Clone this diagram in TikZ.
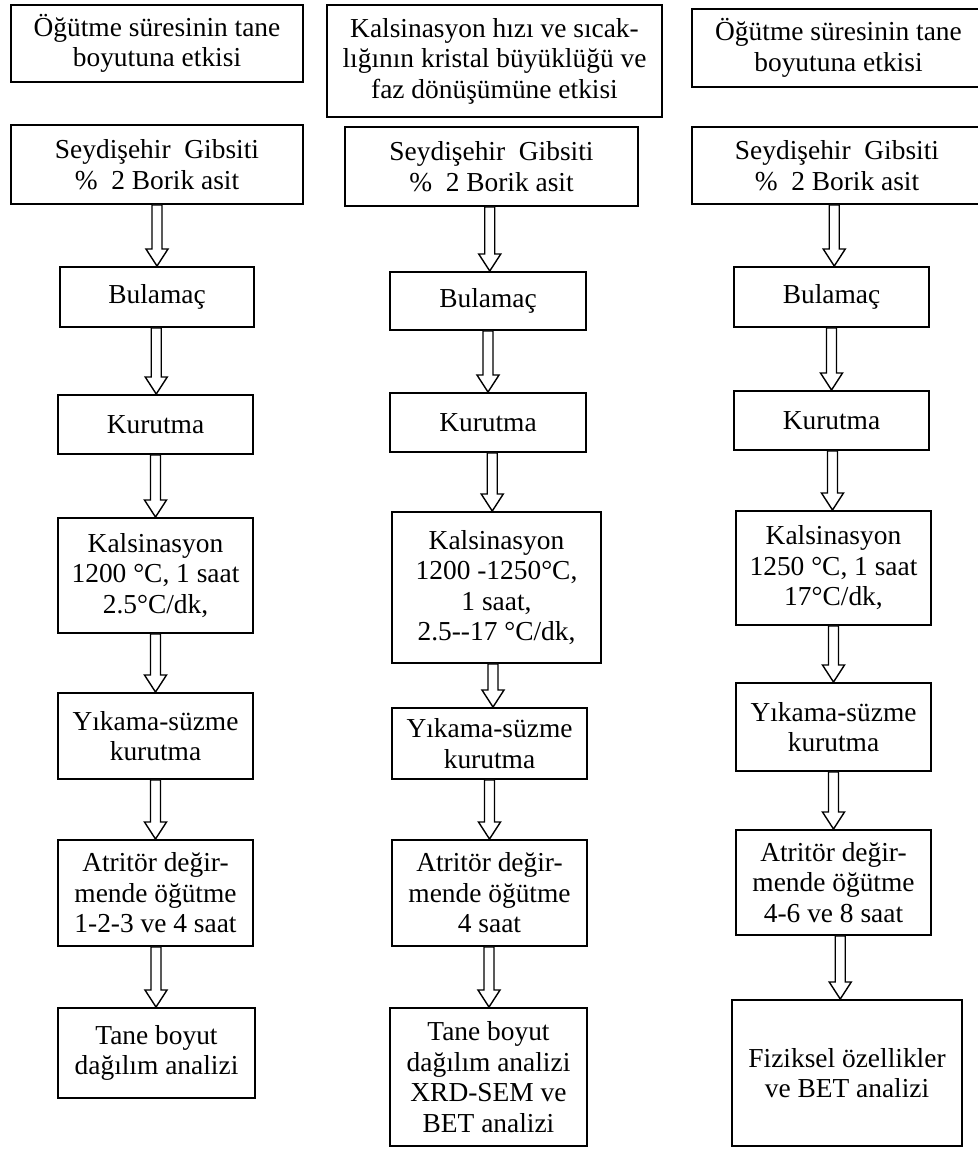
\documentclass[tikz,border=0pt]{standalone}
\usepackage{fontspec}
\setmainfont{Liberation Serif}
\usetikzlibrary{calc}

\tikzset{
  stepbox/.style={rectangle,draw,line width=1.1pt,inner sep=0pt,align=center,
    font=\fontsize{15.6}{17.4}\selectfont},
  hollowarrow/.style={draw,fill=white,line width=0.8pt,line join=miter}
}
% hollow arrow from the bottom of one box to the top of the next
\newcommand{\flowarrow}[2]{%
  \draw[hollowarrow] let \p1=(#1.south), \p2=(#2.north), \p3=($(#1.south)!.5!(#2.north)$) in
    (\x3-1mm,\y1) -- (\x3-1mm,\y2+3.4mm) -- (\x3-2.2mm,\y2+3.4mm) -- (\x3,\y2)
    -- (\x3+2.2mm,\y2+3.4mm) -- (\x3+1mm,\y2+3.4mm) -- (\x3+1mm,\y1) -- cycle;}

\begin{document}
\begin{tikzpicture}[x=0.2mm,y=-0.2mm]
  % draw page
  \fill[white] (0,0) rectangle (977,1149);
  \useasboundingbox (0,0) rectangle (977,1149);
  % draw first column
  \node at(157,43.5)[stepbox,minimum width=58.4mm,minimum height=15.4mm](t1){Öğütme süresinin tane\\boyutuna etkisi};
  \node at(157,164.5)[stepbox,minimum width=58.4mm,minimum height=15.8mm](s1){Seydişehir\enspace Gibsiti\\\%~ 2 Borik asit};
  \node at(157,297)[stepbox,minimum width=38.8mm,minimum height=12mm](b1){Bulamaç};
  \node at(155.5,424.5)[stepbox,minimum width=39mm,minimum height=11.8mm](k1){Kurutma};
  \node at(155.5,575.5)[stepbox,minimum width=39mm,minimum height=23mm](c1){Kalsinasyon\\1200 °C, 1 saat\\2.5°C/dk,};
  \node at(155.5,736)[stepbox,minimum width=39mm,minimum height=17.2mm](y1){Yıkama-süzme\\kurutma};
  \node at(155.5,893)[stepbox,minimum width=39mm,minimum height=21.2mm](a1){Atritör değir-\\mende öğütme\\1-2-3 ve 4 saat};
  \node at(156.5,1053)[stepbox,minimum width=39.4mm,minimum height=18mm](e1){Tane boyut\\dağılım analizi};
  % draw second column
  \node at(494.5,61)[stepbox,minimum width=67mm,minimum height=22.4mm](t2){Kalsinasyon hızı ve sıcak-\\lığının kristal büyüklüğü ve\\faz dönüşümüne etkisi};
  \node at(491.5,166.5)[stepbox,minimum width=58.6mm,minimum height=15.8mm](s2){Seydişehir\enspace Gibsiti\\\%~ 2 Borik asit};
  \node at(488,301)[stepbox,minimum width=39.2mm,minimum height=11.6mm](b2){Bulamaç};
  \node at(488,422.5)[stepbox,minimum width=39.2mm,minimum height=11.8mm](k2){Kurutma};
  \node at(496.5,587.5)[stepbox,minimum width=41.8mm,minimum height=30.2mm](c2){Kalsinasyon\\1200 -1250°C,\\1 saat,\\2.5-{}-17 °C/dk,};
  \node at(489.5,743.5)[stepbox,minimum width=39mm,minimum height=14.2mm](y2){Yıkama-süzme\\kurutma};
  \node at(489.5,893)[stepbox,minimum width=39mm,minimum height=21.2mm](a2){Atritör değir-\\mende öğütme\\4 saat};
  \node at(488.5,1077)[stepbox,minimum width=39.4mm,minimum height=27.6mm](e2){Tane boyut\\dağılım analizi\\XRD-SEM ve\\BET analizi};
  % draw third column
  \node at(838.5,48)[stepbox,minimum width=58.6mm,minimum height=15.6mm](t3){Öğütme süresinin tane\\boyutuna etkisi};
  \node at(837,165.5)[stepbox,minimum width=58mm,minimum height=15.4mm](s3){Seydişehir\enspace Gibsiti\\\%~ 2 Borik asit};
  \node at(831.5,297)[stepbox,minimum width=39mm,minimum height=12mm](b3){Bulamaç};
  \node at(831.5,420.5)[stepbox,minimum width=39mm,minimum height=11.8mm](k3){Kurutma};
  \node at(833.5,568)[stepbox,minimum width=39mm,minimum height=22.8mm](c3){Kalsinasyon\\1250 °C, 1 saat\\17°C/dk,};
  \node at(833.5,727)[stepbox,minimum width=39mm,minimum height=17.6mm](y3){Yıkama-süzme\\kurutma};
  \node at(833.5,882.5)[stepbox,minimum width=39mm,minimum height=21mm](a3){Atritör değir-\\mende öğütme\\4-6 ve 8 saat};
  \node at(847,1073)[stepbox,minimum width=46mm,minimum height=29.2mm](e3){Fiziksel özellikler\\ve BET analizi};
  % draw arrows of first column
  \flowarrow{s1}{b1}
  \flowarrow{b1}{k1}
  \flowarrow{k1}{c1}
  \flowarrow{c1}{y1}
  \flowarrow{y1}{a1}
  \flowarrow{a1}{e1}
  % draw arrows of second column
  \flowarrow{s2}{b2}
  \flowarrow{b2}{k2}
  \flowarrow{k2}{c2}
  \flowarrow{c2}{y2}
  \flowarrow{y2}{a2}
  \flowarrow{a2}{e2}
  % draw arrows of third column
  \flowarrow{s3}{b3}
  \flowarrow{b3}{k3}
  \flowarrow{k3}{c3}
  \flowarrow{c3}{y3}
  \flowarrow{y3}{a3}
  \flowarrow{a3}{e3}
\end{tikzpicture}
\end{document}
